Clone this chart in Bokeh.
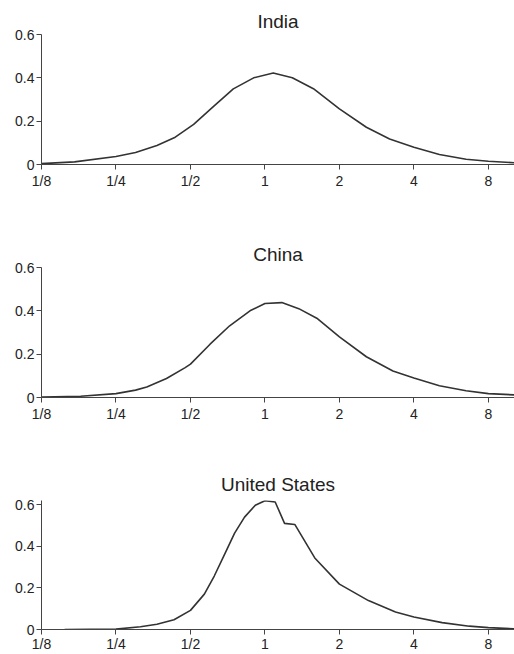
from bokeh.plotting import figure
from bokeh.layouts import column
from bokeh.models import Range1d, FixedTicker
from bokeh.embed import file_html
from bokeh.resources import INLINE

# ---- data ----
x_ticks = [0.125, 0.25, 0.5, 1, 2, 4, 8]
x_tick_labels = ["1/8", "1/4", "1/2", "1", "2", "4", "8"]
y_ticks = [0, 0.2, 0.4, 0.6]
y_tick_labels = ["0", "0.2", "0.4", "0.6"]

india_x = [0.125, 0.17, 0.25, 0.30, 0.366, 0.434, 0.515, 0.62, 0.745, 0.90, 1.08, 1.29,
           1.57, 2.0, 2.57, 3.19, 4.0, 5.07, 6.5, 8.0, 10.2]
india_y = [0.004, 0.012, 0.037, 0.055, 0.088, 0.126, 0.185, 0.268, 0.349, 0.40, 0.422, 0.40,
           0.35, 0.257, 0.172, 0.118, 0.08, 0.046, 0.024, 0.015, 0.008]

china_x = [0.125, 0.18, 0.25, 0.30, 0.333, 0.40, 0.476, 0.5, 0.60, 0.72, 0.87, 1.0, 1.17, 1.37,
           1.62, 2.0, 2.57, 3.29, 4.0, 5.07, 6.5, 8.0, 10.2]
china_y = [0.002, 0.006, 0.018, 0.034, 0.048, 0.088, 0.138, 0.154, 0.246, 0.331, 0.40, 0.434,
           0.438, 0.41, 0.366, 0.28, 0.188, 0.122, 0.09, 0.054, 0.031, 0.018, 0.012]

us_x = [0.155, 0.25, 0.314, 0.366, 0.429, 0.5, 0.569, 0.624, 0.686, 0.754, 0.827, 0.914, 1.0,
        1.10, 1.2, 1.32, 1.59, 2.0, 2.62, 3.37, 4.0, 5.2, 6.7, 8.0, 10.2]
us_y = [0.0, 0.002, 0.013, 0.025, 0.047, 0.092, 0.17, 0.257, 0.36, 0.463, 0.54, 0.597, 0.619,
        0.613, 0.51, 0.505, 0.344, 0.218, 0.139, 0.084, 0.06, 0.033, 0.016, 0.009, 0.003]

panels = [
    ("India", india_x, india_y, 0.6, 233, 34, 69, 6, 3),
    ("China", china_x, china_y, 0.6, 233, 34, 69, 6, 3),
    ("United States", us_x, us_y, 0.62, 188, 33, 25, 11, 1),
]

FONT = "Liberation Sans"
TXT = "#222222"
figs = []
for name, xs, ys, ymax, h, top, bottom, tstand, xstand in panels:
    p = figure(width=514, height=h, x_axis_type="log",
               x_range=Range1d(0.125, 10.2), y_range=Range1d(0, ymax),
               output_backend="svg", toolbar_location=None,
               min_border_left=41, min_border_right=0,
               min_border_top=top, min_border_bottom=bottom,
               title=name)
    p.title.align = "center"
    p.title.text_font = FONT
    p.title.text_font_size = "19px"
    p.title.text_font_style = "normal"
    p.title.text_color = TXT
    p.title.standoff = tstand
    p.outline_line_color = None
    p.xgrid.visible = False
    p.ygrid.visible = False
    p.line(xs, ys, line_color="#333333", line_width=1.6)

    p.xaxis.ticker = FixedTicker(ticks=x_ticks)
    p.xaxis.major_label_overrides = {t: l for t, l in zip(x_ticks, x_tick_labels)}
    p.yaxis.ticker = FixedTicker(ticks=y_ticks)
    p.yaxis.major_label_overrides = {t: l for t, l in zip(y_ticks, y_tick_labels)}
    for ax in (p.xaxis[0], p.yaxis[0]):
        ax.axis_line_color = "#444444"
        ax.axis_line_width = 1
        ax.major_tick_line_color = "#444444"
        ax.major_tick_in = 0
        ax.major_tick_out = 5
        ax.minor_tick_line_color = None
        ax.major_label_text_font = FONT
        ax.major_label_text_font_size = "14px"
        ax.major_label_text_color = TXT
    p.xaxis.major_label_standoff = xstand
    p.yaxis.major_label_standoff = 2
    figs.append(p)

layout = column(*figs, spacing=0)
open("out.html", "w").write(file_html(layout, INLINE))
